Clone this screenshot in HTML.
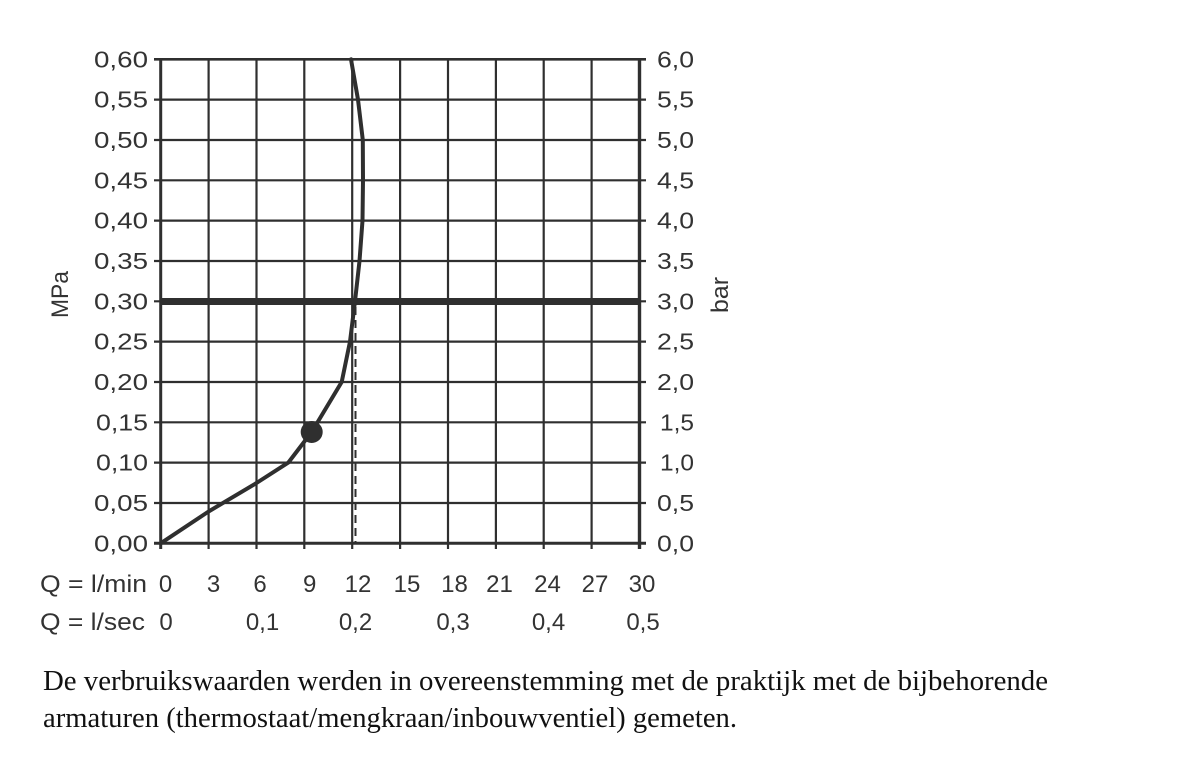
<!DOCTYPE html>
<html>
<head>
<meta charset="utf-8">
<style>
html,body{margin:0;padding:0;background:#fff;}
svg{display:block;}
.ax{font-family:"Liberation Sans",sans-serif;font-size:23px;fill:#333;}
.bx{font-size:24px;}
.ft{font-family:"Liberation Serif",serif;font-size:29px;fill:#111;}
</style>
</head>
<body>
<svg width="1200" height="765" viewBox="0 0 1200 765" xmlns="http://www.w3.org/2000/svg">
<rect width="1200" height="765" fill="#fff"/>
<g stroke="#2f2f2f" stroke-width="2.2" fill="none">
  <line x1="208.6" y1="59.3" x2="208.6" y2="549"/>
  <line x1="256.5" y1="59.3" x2="256.5" y2="549"/>
  <line x1="304.3" y1="59.3" x2="304.3" y2="549"/>
  <line x1="352.2" y1="59.3" x2="352.2" y2="549"/>
  <line x1="400.1" y1="59.3" x2="400.1" y2="549"/>
  <line x1="448.0" y1="59.3" x2="448.0" y2="549"/>
  <line x1="495.9" y1="59.3" x2="495.9" y2="549"/>
  <line x1="543.7" y1="59.3" x2="543.7" y2="549"/>
  <line x1="591.6" y1="59.3" x2="591.6" y2="549"/>
  <line x1="154" y1="99.6" x2="646" y2="99.6"/>
  <line x1="154" y1="140.0" x2="646" y2="140.0"/>
  <line x1="154" y1="180.3" x2="646" y2="180.3"/>
  <line x1="154" y1="220.6" x2="646" y2="220.6"/>
  <line x1="154" y1="261.0" x2="646" y2="261.0"/>
  <line x1="154" y1="301.3" x2="646" y2="301.3"/>
  <line x1="154" y1="341.6" x2="646" y2="341.6"/>
  <line x1="154" y1="382.0" x2="646" y2="382.0"/>
  <line x1="154" y1="422.3" x2="646" y2="422.3"/>
  <line x1="154" y1="462.6" x2="646" y2="462.6"/>
  <line x1="154" y1="503.0" x2="646" y2="503.0"/>
  <line x1="154" y1="59.3" x2="646" y2="59.3" stroke-width="2.6"/>
  <line x1="154" y1="543.3" x2="646" y2="543.3" stroke-width="3"/>
  <line x1="160.7" y1="58" x2="160.7" y2="549" stroke-width="3"/>
  <line x1="639.5" y1="58" x2="639.5" y2="549" stroke-width="3.4"/>
</g>
<line x1="160" y1="301.5" x2="640" y2="301.5" stroke="#2f2f2f" stroke-width="7"/>
<line x1="355.5" y1="307" x2="355.5" y2="543" stroke="#2f2f2f" stroke-width="2" stroke-dasharray="8 5"/>
<polyline fill="none" stroke="#2f2f2f" stroke-width="4" stroke-linejoin="round" stroke-linecap="round"
 points="351,59.3 358,99.6 362.8,140 363,180 362.5,220.6 359.5,261 355,301.3 350,341.6 341.7,382 311.7,432 288.3,462.6 256.5,483 208.6,511.5 160.7,543.3"/>
<circle cx="311.7" cy="432" r="11" fill="#2f2f2f"/>

<g class="ax">
  <text x="94" y="67.3" textLength="54" lengthAdjust="spacingAndGlyphs">0,60</text>
  <text x="94" y="107.6" textLength="54" lengthAdjust="spacingAndGlyphs">0,55</text>
  <text x="94" y="148.0" textLength="54" lengthAdjust="spacingAndGlyphs">0,50</text>
  <text x="94" y="188.3" textLength="54" lengthAdjust="spacingAndGlyphs">0,45</text>
  <text x="94" y="228.6" textLength="54" lengthAdjust="spacingAndGlyphs">0,40</text>
  <text x="94" y="269.0" textLength="54" lengthAdjust="spacingAndGlyphs">0,35</text>
  <text x="94" y="309.3" textLength="54" lengthAdjust="spacingAndGlyphs">0,30</text>
  <text x="94" y="349.6" textLength="54" lengthAdjust="spacingAndGlyphs">0,25</text>
  <text x="94" y="390.0" textLength="54" lengthAdjust="spacingAndGlyphs">0,20</text>
  <text x="96" y="430.3" textLength="52" lengthAdjust="spacingAndGlyphs">0,15</text>
  <text x="96" y="470.6" textLength="52" lengthAdjust="spacingAndGlyphs">0,10</text>
  <text x="94" y="511.0" textLength="54" lengthAdjust="spacingAndGlyphs">0,05</text>
  <text x="94" y="551.3" textLength="54" lengthAdjust="spacingAndGlyphs">0,00</text>

  <text x="657" y="67.3" textLength="37" lengthAdjust="spacingAndGlyphs">6,0</text>
  <text x="657" y="107.6" textLength="37" lengthAdjust="spacingAndGlyphs">5,5</text>
  <text x="657" y="148.0" textLength="37" lengthAdjust="spacingAndGlyphs">5,0</text>
  <text x="657" y="188.3" textLength="37" lengthAdjust="spacingAndGlyphs">4,5</text>
  <text x="657" y="228.6" textLength="37" lengthAdjust="spacingAndGlyphs">4,0</text>
  <text x="657" y="269.0" textLength="37" lengthAdjust="spacingAndGlyphs">3,5</text>
  <text x="657" y="309.3" textLength="37" lengthAdjust="spacingAndGlyphs">3,0</text>
  <text x="657" y="349.6" textLength="37" lengthAdjust="spacingAndGlyphs">2,5</text>
  <text x="657" y="390.0" textLength="37" lengthAdjust="spacingAndGlyphs">2,0</text>
  <text x="660" y="430.3" textLength="34" lengthAdjust="spacingAndGlyphs">1,5</text>
  <text x="660" y="470.6" textLength="34" lengthAdjust="spacingAndGlyphs">1,0</text>
  <text x="657" y="511.0" textLength="37" lengthAdjust="spacingAndGlyphs">0,5</text>
  <text x="657" y="551.3" textLength="37" lengthAdjust="spacingAndGlyphs">0,0</text>

  <text transform="translate(68,294.5) rotate(-90)" text-anchor="middle" font-size="24" textLength="47" lengthAdjust="spacingAndGlyphs">MPa</text>
  <text transform="translate(728,295) rotate(-90)" text-anchor="middle" font-size="24" textLength="36" lengthAdjust="spacingAndGlyphs">bar</text>

  <g class="bx">
    <text x="40" y="592" textLength="107" lengthAdjust="spacingAndGlyphs">Q = l/min</text>
    <g text-anchor="middle">
      <text x="165.5" y="592">0</text>
      <text x="213.5" y="592">3</text>
      <text x="260" y="592">6</text>
      <text x="309.7" y="592">9</text>
      <text x="358" y="592">12</text>
      <text x="407" y="592">15</text>
      <text x="454.5" y="592">18</text>
      <text x="499.5" y="592">21</text>
      <text x="547.5" y="592">24</text>
      <text x="595" y="592">27</text>
      <text x="642" y="592">30</text>
    </g>

    <text x="40" y="630" textLength="105" lengthAdjust="spacingAndGlyphs">Q = l/sec</text>
    <g text-anchor="middle">
      <text x="166" y="630">0</text>
      <text x="262.5" y="630">0,1</text>
      <text x="355.5" y="630">0,2</text>
      <text x="453" y="630">0,3</text>
      <text x="548.5" y="630">0,4</text>
      <text x="643" y="630">0,5</text>
    </g>
  </g>
</g>

<text class="ft" x="43" y="690" textLength="1005" lengthAdjust="spacingAndGlyphs">De verbruikswaarden werden in overeenstemming met de praktijk met de bijbehorende</text>
<text class="ft" x="43" y="727" textLength="694" lengthAdjust="spacingAndGlyphs">armaturen (thermostaat/mengkraan/inbouwventiel) gemeten.</text>
</svg>
</body>
</html>
